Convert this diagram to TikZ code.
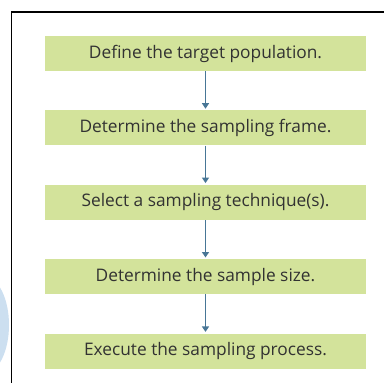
\documentclass[tikz,border=0pt]{standalone}
\usepackage{fontspec}
\setmainfont{Open Sans}
\usetikzlibrary{positioning,arrows.meta}
\definecolor{stepgreen}{RGB}{211,227,155}
\definecolor{arrowblue}{RGB}{72,118,150}
\definecolor{paleblue}{RGB}{204,223,240}
\definecolor{textgray}{RGB}{50,50,50}
\tikzset{>={Triangle[width=7pt,length=5.5pt]}}
\tikzset{
  stepbox/.style={
    fill=stepgreen, draw=none, text=textgray,
    minimum width=321pt, minimum height=35pt,
    inner sep=0pt, font=\fontsize{17.3}{20}\selectfont
  },
  flow/.style={->, arrowblue, line width=1.3pt, shorten >=1.5pt}
}

\begin{document}
\begin{tikzpicture}[x=1pt,y=1pt,node distance=39pt]
    \useasboundingbox (0,0) rectangle (384,-383);
    % page decoration
    \fill[paleblue] (-15,-325) ellipse [x radius=24, y radius=48];
    \draw[line width=1.5pt] (11.5,-383) -- (11.5,-12) -- (384,-12);
    % steps
    \node[stepbox] (target) at (205.5,-53.5) {Define the target population.};
    \node[stepbox, below=of target] (frame) {Determine the sampling frame.};
    \node[stepbox, below=of frame] (technique) {Select a sampling technique(s).};
    \node[stepbox, below=of technique] (size) {Determine the sample size.};
    \node[stepbox, below=of size] (process) {Execute the sampling process.};
    \draw[flow] (target) -- (frame);
    \draw[flow] (frame) -- (technique);
    \draw[flow] (technique) -- (size);
    \draw[flow] (size) -- (process);
\end{tikzpicture}
\end{document}
